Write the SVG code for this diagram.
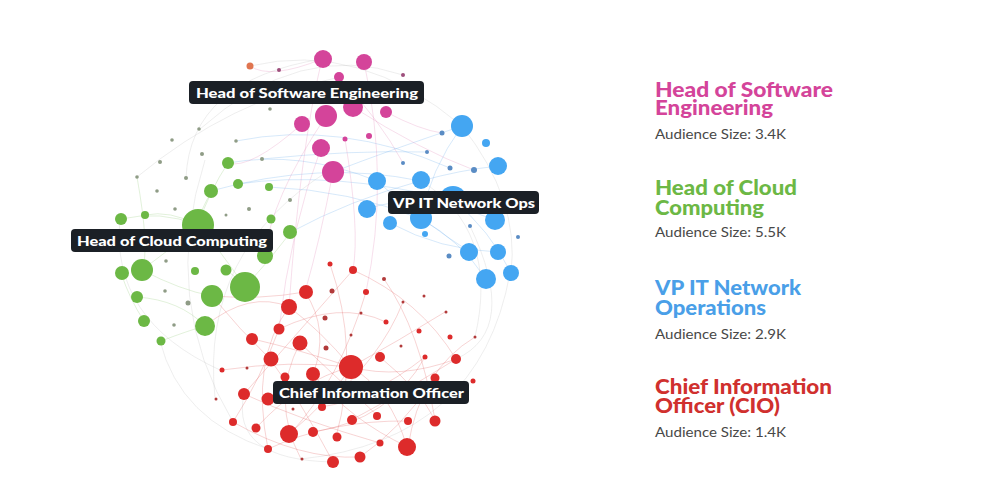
<svg xmlns="http://www.w3.org/2000/svg" width="1000" height="500" viewBox="0 0 1000 500">
<style>
path{fill:none;stroke-width:.7}
.er{stroke:#e05a5a;stroke-opacity:.38}
.eb{stroke:#5aa4ea;stroke-opacity:.35}
.eg{stroke:#86c46a;stroke-opacity:.35}
.ep{stroke:#e07ab0;stroke-opacity:.35}
.en{stroke:#b8b8b8;stroke-opacity:.35}
.r{fill:#dd2b2b}.b{fill:#44a6f2}.g{fill:#6cb845}.p{fill:#d4449a}
.sr{fill:#b23a3a}.sb{fill:#5a8cc4}.sg{fill:#8f9c86}.sp{fill:#9e4f7c}
.lb rect{fill:#1b2026}
.lb text{font-family:Lato,"Liberation Sans",sans-serif;font-weight:900;font-size:14px;fill:#fff}
.t{font-family:Lato,"Liberation Sans",sans-serif;font-weight:900;font-size:20px}
.a{font-family:Lato,"Liberation Sans",sans-serif;font-size:14px;fill:#484848}
</style>
<rect width="1000" height="500" fill="#fff"/>
<g id="connectors">
<path class="en" d="M215,398 Q200,250 330,170"/>
<path class="en" d="M233,422 Q160,300 205,160"/>
<path class="en" d="M475,337 Q500,230 420,180"/>
<path class="en" d="M301,459 Q480,440 510,273"/>
<path class="en" d="M244,394 Q230,460 333,462"/>
<path class="en" d="M160,341 Q180,420 268,449"/>
<path class="en" d="M470,226 Q520,330 456,359"/>
<path class="en" d="M200,129 Q300,40 403,75"/>
<path class="en" d="M186,178 Q190,80 322,59"/>
<path class="en" d="M462,126 Q520,200 511,273"/>
<path class="en" d="M250,66 Q360,40 462,126"/>
<path class="en" d="M120,219 Q110,320 220,370"/>
<path class="en" d="M137,177 Q230,100 340,77"/>
<path class="er" d="M289,307 Q320,330 351,367"/>
<path class="er" d="M351,367 Q330,400 289,434"/>
<path class="er" d="M351,367 Q390,390 407,447"/>
<path class="er" d="M305,292 Q330,330 313,374"/>
<path class="er" d="M270,359 Q300,400 333,462"/>
<path class="er" d="M253,339 Q300,350 351,367"/>
<path class="er" d="M279,329 Q340,300 386,322"/>
<path class="er" d="M300,343 Q350,390 378,416"/>
<path class="er" d="M353,270 Q300,330 244,394"/>
<path class="er" d="M330,264 Q360,350 336,437"/>
<path class="er" d="M366,292 Q340,380 290,434"/>
<path class="er" d="M456,359 Q400,380 351,367"/>
<path class="er" d="M435,378 Q400,430 360,457"/>
<path class="er" d="M425,357 Q390,420 313,432"/>
<path class="er" d="M244,394 Q300,420 380,443"/>
<path class="er" d="M233,422 Q300,460 360,457"/>
<path class="er" d="M256,428 Q300,380 351,367"/>
<path class="er" d="M268,449 Q330,420 408,421"/>
<path class="er" d="M289,307 Q250,360 268,449"/>
<path class="er" d="M384,279 Q420,330 435,420"/>
<path class="er" d="M403,302 Q380,360 322,407"/>
<path class="er" d="M445,312 Q400,340 351,367"/>
<path class="er" d="M475,337 Q420,370 408,447"/>
<path class="er" d="M222,370 Q290,360 351,367"/>
<path class="er" d="M313,374 Q350,420 408,447"/>
<path class="er" d="M300,343 Q270,400 301,459"/>
<path class="er" d="M321,407 Q370,400 425,357"/>
<path class="er" d="M351,420 Q390,400 456,359"/>
<path class="er" d="M279,329 Q260,380 233,422"/>
<path class="er" d="M305,292 Q260,300 212,296"/>
<path class="er" d="M289,307 Q250,290 205,326"/>
<path class="er" d="M270,359 Q240,330 212,296"/>
<path class="er" d="M353,270 Q420,300 456,359"/>
<path class="er" d="M380,357 Q420,390 435,420"/>
<path class="eb" d="M228,163 Q300,150 377,181"/>
<path class="eb" d="M211,191 Q320,160 421,181"/>
<path class="eb" d="M238,184 Q330,170 453,200"/>
<path class="eb" d="M269,187 Q350,190 421,219"/>
<path class="eb" d="M291,232 Q350,200 420,181"/>
<path class="eb" d="M333,172 Q390,150 462,126"/>
<path class="eb" d="M377,181 Q420,220 470,252"/>
<path class="eb" d="M421,181 Q460,170 498,166"/>
<path class="eb" d="M421,219 Q460,240 486,279"/>
<path class="eb" d="M390,223 Q440,250 498,252"/>
<path class="eb" d="M367,209 Q420,190 495,220"/>
<path class="eb" d="M453,200 Q490,230 511,273"/>
<path class="eb" d="M462,126 Q430,170 421,219"/>
<path class="eb" d="M236,141 Q340,120 450,168"/>
<path class="eb" d="M262,159 Q350,150 427,152"/>
<path class="ep" d="M322,59 Q300,150 289,307"/>
<path class="ep" d="M364,62 Q390,180 366,292"/>
<path class="ep" d="M333,172 Q320,240 305,292"/>
<path class="ep" d="M326,116 Q270,200 265,256"/>
<path class="ep" d="M302,124 Q250,170 228,163"/>
<path class="ep" d="M353,107 Q420,150 474,170"/>
<path class="ep" d="M386,112 Q420,130 442,133"/>
<path class="ep" d="M339,77 Q380,120 403,163"/>
<path class="ep" d="M321,148 Q290,230 279,329"/>
<path class="ep" d="M322,59 Q270,80 250,66"/>
<path class="ep" d="M345,139 Q360,230 353,270"/>
<path class="eg" d="M198,225 Q170,250 142,270"/>
<path class="eg" d="M198,225 Q220,250 245,287"/>
<path class="eg" d="M142,270 Q180,290 212,296"/>
<path class="eg" d="M121,273 Q130,300 144,321"/>
<path class="eg" d="M205,326 Q180,300 137,297"/>
<path class="eg" d="M121,219 Q160,210 198,225"/>
<path class="eg" d="M212,191 Q200,210 198,225"/>
<path class="eg" d="M245,287 Q270,260 291,232"/>
<path class="eg" d="M161,341 Q190,330 205,326"/>
<path class="eg" d="M226,270 Q240,280 245,287"/>
<path class="eg" d="M228,163 Q210,190 198,225"/>
<path class="eg" d="M137,177 Q150,250 142,270"/>
<path class="eg" d="M145,215 Q170,210 198,225"/>
</g>
<g id="cluster-software">
<circle class="p" cx="323" cy="59" r="9"/>
<circle class="p" cx="364" cy="62" r="8"/>
<circle class="p" cx="339" cy="77" r="5"/>
<circle fill="#e07550" cx="250" cy="66" r="3.5"/>
<circle class="p" cx="386" cy="112" r="6"/>
<circle class="p" cx="353" cy="107" r="10"/>
<circle class="p" cx="326" cy="116" r="11"/>
<circle class="p" cx="302" cy="124" r="8"/>
<circle class="p" cx="321" cy="148" r="9"/>
<circle class="p" cx="333" cy="172" r="11"/>
<circle class="p" cx="345" cy="139" r="2.5"/>
<circle class="p" cx="369" cy="136" r="3"/>
<circle class="sp" cx="279" cy="70" r="2"/>
<circle class="sp" cx="403" cy="75" r="2"/>
<circle class="sg" cx="270" cy="109" r="1.8"/>
</g>
<g id="cluster-network">
<circle class="b" cx="462" cy="126" r="11"/>
<circle class="b" cx="486" cy="143" r="4"/>
<circle class="sb" cx="442" cy="133" r="2.5"/>
<circle class="b" cx="498" cy="166" r="9"/>
<circle class="sb" cx="427" cy="152" r="2"/>
<circle class="sb" cx="403" cy="163" r="2"/>
<circle class="sb" cx="450" cy="168" r="2.5"/>
<circle class="sb" cx="474" cy="170" r="3"/>
<circle class="b" cx="377" cy="181" r="9"/>
<circle class="b" cx="421" cy="180" r="9"/>
<circle class="b" cx="453" cy="200" r="14"/>
<circle class="b" cx="367" cy="209" r="9"/>
<circle class="b" cx="390" cy="223" r="7"/>
<circle class="b" cx="421" cy="218" r="11"/>
<circle class="b" cx="495" cy="220" r="10"/>
<circle class="b" cx="425" cy="234" r="3"/>
<circle class="sb" cx="470" cy="226" r="2"/>
<circle class="sb" cx="518" cy="237" r="2"/>
<circle class="b" cx="469" cy="252" r="9"/>
<circle class="b" cx="498" cy="252" r="8"/>
<circle class="sb" cx="449" cy="256" r="2.5"/>
<circle class="b" cx="486" cy="279" r="10"/>
<circle class="b" cx="511" cy="273" r="8"/>
</g>
<g id="cluster-cloud">
<circle class="g" cx="228" cy="163" r="6"/>
<circle class="g" cx="238" cy="184" r="5"/>
<circle class="g" cx="211" cy="191" r="7"/>
<circle class="g" cx="269" cy="187" r="4"/>
<circle class="g" cx="121" cy="219" r="6"/>
<circle class="g" cx="145" cy="215" r="4"/>
<circle class="g" cx="198" cy="225" r="16"/>
<circle class="g" cx="271" cy="219" r="4.5"/>
<circle class="sg" cx="249" cy="209" r="2"/>
<circle class="sg" cx="226" cy="215" r="1.5"/>
<circle class="g" cx="290" cy="232" r="7"/>
<circle class="g" cx="265" cy="256" r="8"/>
<circle class="g" cx="122" cy="273" r="7"/>
<circle class="g" cx="142" cy="270" r="11"/>
<circle class="g" cx="195" cy="271" r="4"/>
<circle class="g" cx="226" cy="270" r="5.5"/>
<circle class="g" cx="245" cy="287" r="15"/>
<circle class="g" cx="212" cy="296" r="11"/>
<circle class="g" cx="137" cy="297" r="6"/>
<circle class="sg" cx="188" cy="303" r="2.5"/>
<circle class="g" cx="144" cy="321" r="6"/>
<circle class="g" cx="205" cy="326" r="10"/>
<circle class="g" cx="161" cy="341" r="4.5"/>
<circle class="sg" cx="172" cy="140" r="1.8"/>
<circle class="sg" cx="236" cy="141" r="1.8"/>
<circle class="sg" cx="202" cy="154" r="2"/>
<circle class="sg" cx="160" cy="162" r="2"/>
<circle class="sg" cx="137" cy="177" r="1.8"/>
<circle class="sg" cx="186" cy="178" r="2"/>
<circle class="sg" cx="157" cy="191" r="1.8"/>
<circle class="sg" cx="175" cy="209" r="1.8"/>
<circle class="sg" cx="290" cy="200" r="2"/>
<circle class="sg" cx="166" cy="261" r="1.8"/>
<circle class="sg" cx="165" cy="291" r="1.8"/>
<circle class="sg" cx="174" cy="325" r="1.8"/>
<circle class="sg" cx="262" cy="159" r="2"/>
<circle class="sg" cx="199" cy="129" r="1.8"/>
</g>
<g id="cluster-cio">
<circle class="r" cx="330" cy="264" r="2.5"/>
<circle class="r" cx="353" cy="270" r="4"/>
<circle class="sr" cx="384" cy="279" r="2"/>
<circle class="r" cx="306" cy="292" r="7"/>
<circle class="sr" cx="332" cy="291" r="2.5"/>
<circle class="r" cx="366" cy="292" r="3"/>
<circle class="sr" cx="403" cy="302" r="1.5"/>
<circle class="sr" cx="424" cy="296" r="1.5"/>
<circle class="sr" cx="446" cy="312" r="1.5"/>
<circle class="r" cx="289" cy="307" r="8"/>
<circle class="sr" cx="325" cy="318" r="2.5"/>
<circle class="sr" cx="361" cy="313" r="1.5"/>
<circle class="r" cx="386" cy="322" r="2.5"/>
<circle class="r" cx="419" cy="331" r="2.5"/>
<circle class="r" cx="450" cy="337" r="2.5"/>
<circle class="sr" cx="475" cy="337" r="1.5"/>
<circle class="r" cx="279" cy="329" r="5.5"/>
<circle class="r" cx="300" cy="343" r="7.5"/>
<circle class="r" cx="252" cy="339" r="6"/>
<circle class="sr" cx="326" cy="348" r="2.5"/>
<circle class="sr" cx="351" cy="335" r="1.5"/>
<circle class="sr" cx="401" cy="346" r="1.5"/>
<circle class="r" cx="271" cy="359" r="7.5"/>
<circle class="r" cx="351" cy="367" r="12"/>
<circle class="r" cx="380" cy="357" r="5"/>
<circle class="r" cx="425" cy="357" r="2.5"/>
<circle class="r" cx="456" cy="359" r="5"/>
<circle class="r" cx="222" cy="370" r="2.5"/>
<circle class="sr" cx="247" cy="368" r="1.5"/>
<circle class="r" cx="285" cy="377" r="4.5"/>
<circle class="r" cx="313" cy="374" r="7"/>
<circle class="r" cx="435" cy="378" r="4.5"/>
<circle class="r" cx="473" cy="381" r="2.5"/>
<circle class="r" cx="244" cy="394" r="6"/>
<circle class="r" cx="268" cy="399" r="6.5"/>
<circle class="sr" cx="216" cy="399" r="1.5"/>
<circle class="r" cx="322" cy="407" r="4"/>
<circle class="sr" cx="293" cy="409" r="1.5"/>
<circle class="r" cx="352" cy="420" r="5"/>
<circle class="r" cx="377" cy="416" r="4"/>
<circle class="r" cx="408" cy="421" r="4"/>
<circle class="r" cx="435" cy="421" r="5.5"/>
<circle class="r" cx="233" cy="422" r="4"/>
<circle class="r" cx="256" cy="428" r="4.5"/>
<circle class="r" cx="289" cy="434" r="9"/>
<circle class="r" cx="313" cy="432" r="5"/>
<circle class="r" cx="337" cy="437" r="4.5"/>
<circle class="r" cx="380" cy="443" r="3.5"/>
<circle class="r" cx="407" cy="447" r="9"/>
<circle class="r" cx="268" cy="449" r="4"/>
<circle class="sr" cx="302" cy="459" r="1.5"/>
<circle class="r" cx="333" cy="462" r="6"/>
<circle class="r" cx="360" cy="457" r="5.5"/>
</g>
<g id="label-software" class="lb"><rect x="189" y="81" width="235" height="23" rx="4"/><text x="196" y="98" textLength="222" lengthAdjust="spacingAndGlyphs">Head of Software Engineering</text></g>
<g id="label-network" class="lb"><rect x="388" y="191" width="151" height="23" rx="4"/><text x="393" y="208" textLength="142" lengthAdjust="spacingAndGlyphs">VP IT Network Ops</text></g>
<g id="label-cloud" class="lb"><rect x="71" y="229" width="202" height="23" rx="4"/><text x="77" y="246" textLength="190" lengthAdjust="spacingAndGlyphs">Head of Cloud Computing</text></g>
<g id="label-cio" class="lb"><rect x="273" y="381" width="196" height="23" rx="4"/><text x="279" y="398" textLength="185" lengthAdjust="spacingAndGlyphs">Chief Information Officer</text></g>
<g id="legend-software">
<text class="t" fill="#d4449a"><tspan x="655" y="97" textLength="178" lengthAdjust="spacingAndGlyphs">Head of Software</tspan><tspan x="655" y="115" textLength="118" lengthAdjust="spacingAndGlyphs">Engineering</tspan></text>
<text class="a" x="655" y="139" textLength="131" lengthAdjust="spacingAndGlyphs">Audience Size: 3.4K</text>
</g>
<g id="legend-cloud">
<text class="t" fill="#6cb845"><tspan x="655" y="195" textLength="142" lengthAdjust="spacingAndGlyphs">Head of Cloud</tspan><tspan x="655" y="215" textLength="109" lengthAdjust="spacingAndGlyphs">Computing</tspan></text>
<text class="a" x="655" y="237" textLength="131" lengthAdjust="spacingAndGlyphs">Audience Size: 5.5K</text>
</g>
<g id="legend-network">
<text class="t" fill="#4a9fe8"><tspan x="655" y="295" textLength="146" lengthAdjust="spacingAndGlyphs">VP IT Network</tspan><tspan x="655" y="315" textLength="111" lengthAdjust="spacingAndGlyphs">Operations</tspan></text>
<text class="a" x="655" y="339" textLength="131" lengthAdjust="spacingAndGlyphs">Audience Size: 2.9K</text>
</g>
<g id="legend-cio">
<text class="t" fill="#d0302e"><tspan x="655" y="394" textLength="177" lengthAdjust="spacingAndGlyphs">Chief Information</tspan><tspan x="655" y="413" textLength="125" lengthAdjust="spacingAndGlyphs">Officer (CIO)</tspan></text>
<text class="a" x="655" y="437" textLength="131" lengthAdjust="spacingAndGlyphs">Audience Size: 1.4K</text>
</g>
</svg>
